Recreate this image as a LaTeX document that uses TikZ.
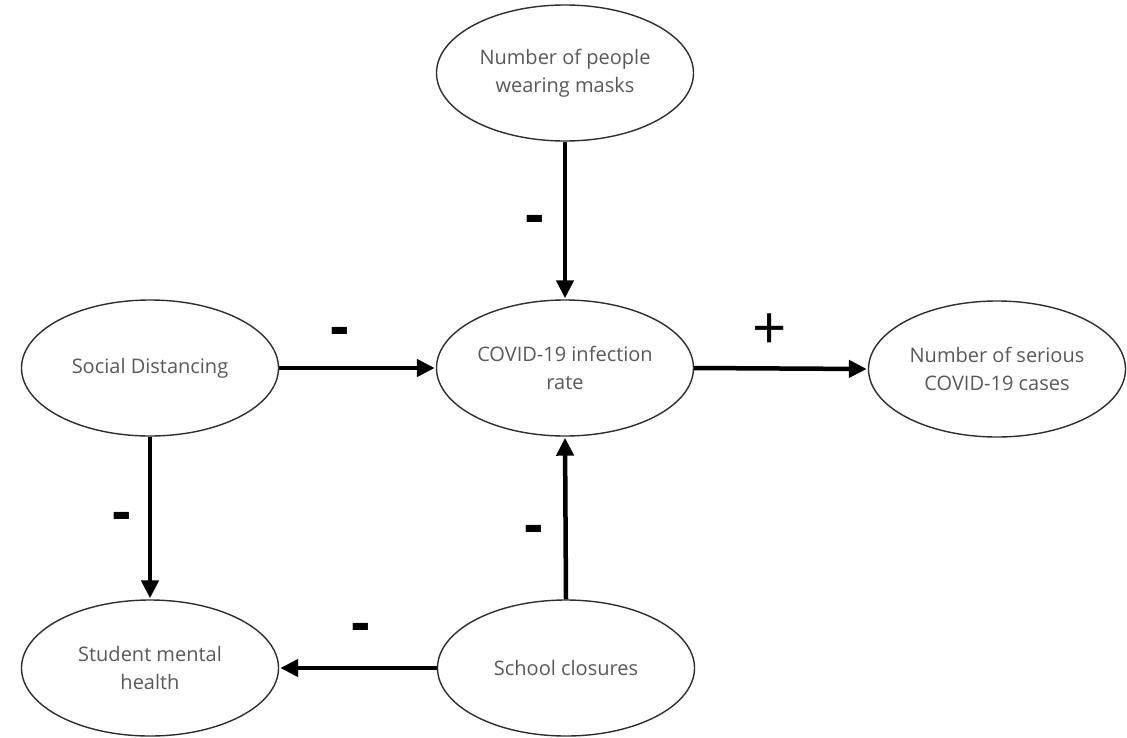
\documentclass[tikz,border=0pt]{standalone}
\usepackage{fontspec}
\setmainfont{Open Sans}
\usetikzlibrary{shapes.geometric,arrows.meta}
\definecolor{txtgray}{HTML}{595959}
\definecolor{edgegray}{HTML}{2E2E2E}
\tikzset{
  factor/.style={ellipse, draw=edgegray, line width=1.4pt, fill=white,
    minimum width=257pt, minimum height=136pt, inner sep=0pt,
    align=center, text=txtgray, font=\fontsize{20}{28}\selectfont},
  link/.style={line width=4.5pt, draw=black,
    -{Triangle[length=18pt,width=17pt]}, shorten >=1pt},
  sign/.style={inner sep=0pt, text=black, font=\fontsize{60}{60}\selectfont},
  minus/.style={sign, font=\fontsize{58}{58}\selectfont\bfseries}
}
\begin{document}
\begin{tikzpicture}[x=1pt,y=-1pt]
  \useasboundingbox[fill=white] (0,0) rectangle (1127,737);

  % factors
  \node[factor] (masks)   at (565,73)  {Number of people\\wearing masks};
  \node[factor] (covid)   at (565,368) {COVID-19 infection\\rate};
  \node[factor] (social)  at (150,368) {Social Distancing};
  \node[factor] (serious) at (997,369) {Number of serious\\COVID-19 cases};
  \node[factor] (student) at (150,668) {Student mental\\health};
  \node[factor] (school)  at (566,668) {School closures};

  % causal links
  \draw[link] (masks.south)  -- (covid.north);
  \draw[link] (social.east)  -- (covid.west);
  \draw[link] (covid.east)   -- (serious.west);
  \draw[link] (social.south) -- (student.north);
  \draw[link] (school.north) -- (covid.south);
  \draw[link] (school.west)  -- (student.east);

  % polarity signs
  \node[minus] (s1) at (535,225) {-};
  \node[minus] (s2) at (340,337) {-};
  \node[sign]  (s3) at (770,332) {+};
  \node[minus] (s4) at (122,522) {-};
  \node[minus] (s5) at (534,535) {-};
  \node[minus] (s6) at (361,633) {-};
\end{tikzpicture}
\end{document}
